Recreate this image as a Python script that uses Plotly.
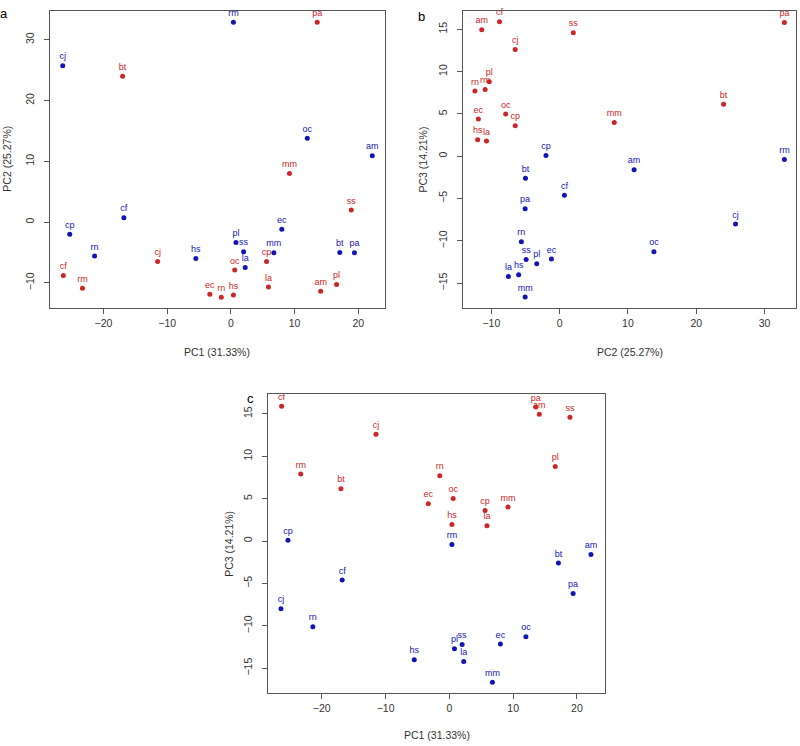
import plotly.graph_objects as go

labels = ["am", "bt", "cf", "cj", "cp", "ec", "hs", "la", "mm", "oc", "pa", "pl", "rm", "rn", "ss"]

red_pc1 = [14.1, -17.0, -26.3, -11.5, 5.6, -3.3, 0.4, 5.9, 9.2, 0.6, 13.55, 16.6, -23.3, -1.5, 18.9]
red_pc2 = [-11.4, 24.0, -8.8, -6.5, -6.5, -11.9, -12.0, -10.7, 8.0, -7.9, 32.9, -10.3, -10.9, -12.4, 2.0]
red_pc3 = [14.95, 6.15, 15.9, 12.6, 3.6, 4.4, 1.96, 1.8, 4.0, 5.0, 15.8, 8.8, 7.9, 7.7, 14.6]

blue_pc1 = [22.2, 17.1, -16.8, -26.4, -25.3, 8.0, -5.5, 2.25, 6.75, 12.0, 19.4, 0.8, 0.4, -21.4, 2.0]
blue_pc2 = [10.9, -5.0, 0.7, 25.75, -2.0, -1.2, -6.0, -7.5, -5.05, 13.8, -5.05, -3.35, 32.9, -5.6, -4.9]
blue_pc3 = [-1.6, -2.6, -4.6, -8.0, 0.1, -12.15, -14.0, -14.2, -16.65, -11.3, -6.2, -12.7, -0.4, -10.1, -12.2]

pc1_title = "PC1 (31.33%)"
pc2_title = "PC2 (25.27%)"
pc3_title = "PC3 (14.21%)"

pc1_ticks = [-20, -10, 0, 10, 20]
pc2_ticks_a = [-10, 0, 10, 20, 30]
pc2_ticks_b = [-10, 0, 10, 20, 30]
pc3_ticks = [-15, -10, -5, 0, 5, 10, 15]

RED = "#CD2626"
BLUE = "#1414B4"
W, H = 800, 746
FONT = "Liberation Sans, Arial, sans-serif"

fig = go.Figure()

panels = [
    (red_pc1, red_pc2, blue_pc1, blue_pc2, ""),
    (red_pc2, red_pc3, blue_pc2, blue_pc3, "2"),
    (red_pc1, red_pc3, blue_pc1, blue_pc3, "3"),
]

for xr, yr, xb, yb, s in panels:
    for xs, ys, col in ((xb, yb, BLUE), (xr, yr, RED)):
        fig.add_trace(go.Scatter(
            x=xs, y=ys, mode="markers+text", text=labels,
            textposition="top center",
            textfont=dict(color=col, size=9, family=FONT),
            marker=dict(color=col, size=5),
            xaxis="x" + s, yaxis="y" + s, showlegend=False, hoverinfo="skip",
            cliponaxis=False,
        ))


def px_x(p):
    return p / W


def px_y(p):
    return 1 - p / H


axis_common = dict(
    showgrid=False, zeroline=False, showline=True, mirror=True,
    linecolor="#555555", linewidth=1, ticks="outside", ticklen=5,
    tickcolor="#555555", tickfont=dict(size=10.5, color="#333333", family=FONT),
)

boxes = {
    "": (50, 385, 10.7, 307.7),
    "2": (463.3, 796, 10.7, 307.7),
    "3": (268.2, 605, 394.3, 692.8),
}
ranges = {
    "": ([-28.4, 24.2], [-14.1, 34.8], pc1_ticks, pc2_ticks_a),
    "2": ([-14.1, 34.6], [-17.9, 17.2], pc2_ticks_b, pc3_ticks),
    "3": ([-28.4, 24.4], [-17.9, 17.3], pc1_ticks, pc3_ticks),
}

layout = dict(
    width=W, height=H, margin=dict(l=0, r=0, t=0, b=0),
    paper_bgcolor="white", plot_bgcolor="white",
    font=dict(family=FONT),
)
for s, (l, r, t, b) in boxes.items():
    xr_, yr_, xt, yt = ranges[s]
    layout["xaxis" + s] = dict(axis_common, domain=[px_x(l), px_x(r)], range=xr_,
                               tickvals=xt, anchor="y" + s, ticklabelstandoff=1)
    layout["yaxis" + s] = dict(axis_common, domain=[px_y(b), px_y(t)], range=yr_,
                               tickvals=yt, anchor="x" + s, tickangle=-90,
                               ticklabelstandoff=6)
fig.update_layout(**layout)

ann = []
titles = [
    ("", pc1_title, pc2_title, 352, 7.5),
    ("2", pc2_title, pc3_title, 352.3, 423.3),
    ("3", pc1_title, pc3_title, 735, 228.3),
]
for s, xt, yt, xty, ytx in titles:
    l, r, t, b = boxes[s]
    ann.append(dict(text=xt, x=px_x((l + r) / 2), y=px_y(xty), xref="paper", yref="paper",
                    showarrow=False, xanchor="center", yanchor="middle",
                    font=dict(size=10.5, color="#333333", family=FONT)))
    ann.append(dict(text=yt, x=px_x(ytx), y=px_y((t + b) / 2), xref="paper", yref="paper",
                    showarrow=False, xanchor="center", yanchor="middle", textangle=-90,
                    font=dict(size=10.5, color="#333333", family=FONT)))

for letter, x, y in (("a", 4, 13), ("b", 421, 16), ("c", 251, 398)):
    ann.append(dict(text=letter, x=px_x(x), y=px_y(y), xref="paper", yref="paper",
                    showarrow=False, xanchor="center", yanchor="middle",
                    font=dict(size=13, color="black", family=FONT)))
fig.update_layout(annotations=ann)

fig.write_html(
    "out.html",
    config={"displayModeBar": False},
    post_script="document.body.style.margin='0';document.body.style.overflow='hidden';",
)
